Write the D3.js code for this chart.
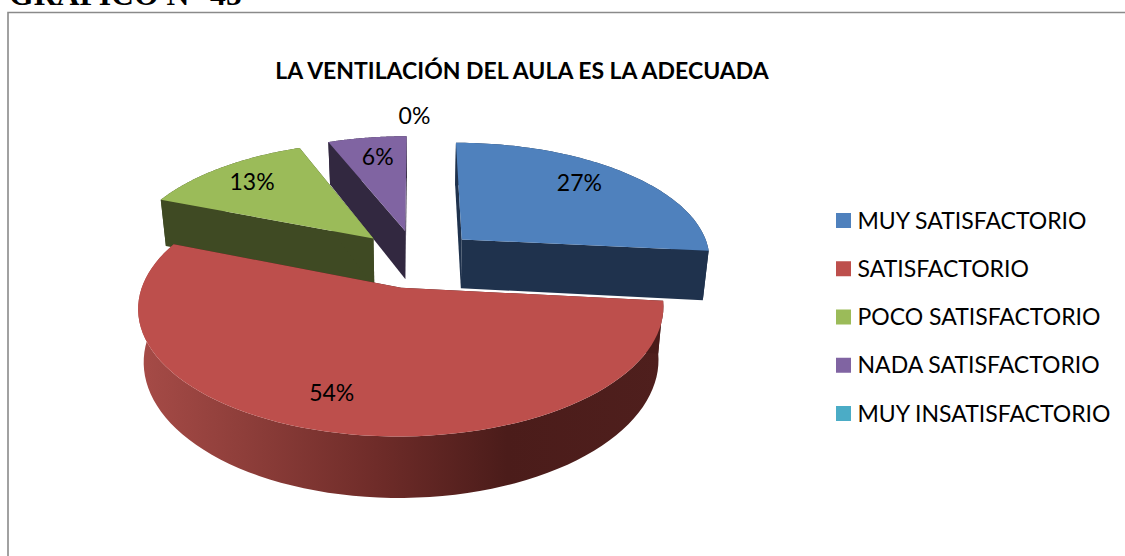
<!DOCTYPE html>
<html><head><meta charset="utf-8">
<script src="https://cdn.jsdelivr.net/npm/d3@7"></script>
<style>html,body{margin:0;padding:0;background:#fff;overflow:hidden}svg{display:block}</style>
</head><body><svg id="c" width="1125" height="556"></svg>
<script>
const categories = ["MUY SATISFACTORIO","SATISFACTORIO","POCO SATISFACTORIO","NADA SATISFACTORIO","MUY INSATISFACTORIO"];
const percentages = [26.6,54.4,13,6,0];
const topColors = ["#4f81bd","#bd4f4c","#9bbb59","#8064a2","#4bacc6"];
const cutColors = ["#1f324d","#4a1c1a","#3f4a23","#322840","#1e4a56"];
const sideColors = ["#1f324d",null,"#3f4a23","#322840","#1e4a56"];
const chartTitle = "LA VENTILACIÓN DEL AULA ES LA ADECUADA";
const pageHeading = "GRÁFICO N° 45";
const drawOrder = [3,2,0,1];
const labelNudges = [[-1,-4],[-18,9],[-9,-2],[1,-2],[-2,-10]];

const svg = d3.select("#c");
const FONT = "Lato, 'Noto Sans', sans-serif";

// Page heading and frame
svg.append("text").attr("x",9).attr("y",5).attr("font-family","'Liberation Serif',serif")
  .attr("font-weight","bold").attr("font-size",31.7).attr("fill","#000").text(pageHeading);
svg.append("path").attr("d","M1125 12.5H8V556").attr("fill","none").attr("stroke","#8a8a8a").attr("stroke-width",1.6);

svg.append("text").attr("x",522).attr("y",79).attr("text-anchor","middle").attr("font-family",FONT)
  .attr("font-weight","bold").attr("font-size",23).attr("fill","#000").text(chartTitle);

// Projection: world disk coordinates → screen, via linear scales and mild perspective
const x = d3.scaleLinear().domain([0,1]).range([416.5,666.5]);
const y = d3.scaleLinear().domain([0,1]).range([258.5,142]);
const persp = Y => 1/(1+0.15*Y);
const height3d = 50, baseShrink = 0.98, explode = 0.25;
const project = (X,Y,base) => {
  const s = persp(Y);
  let px = x(X*s), py = y(Y*s);
  if(base){ px = x(X*s*baseShrink); py += height3d*s; }
  return [px,py];
};

const pie = d3.pie().sort(null).value(d=>d);
const arcs = pie(percentages);
const line = d3.line().curve(d3.curveLinear);

const sliceGeom = a => {
  const mid=(a.startAngle+a.endAngle)/2;
  const ox=explode*Math.sin(mid), oy=explode*Math.cos(mid);
  const rim=(t,base)=>project(ox+Math.sin(t),oy+Math.cos(t),base);
  const apex=base=>project(ox,oy,base);
  const ts=d3.range(0,1.0001,1/80).map(d3.interpolateNumber(a.startAngle,a.endAngle));
  return {mid,ox,oy,rim,apex,ts};
};

const defs = svg.append("defs");
const grad = defs.append("linearGradient").attr("id","redSide").attr("gradientUnits","userSpaceOnUse")
  .attr("x1",140).attr("x2",664).attr("y1",0).attr("y2",0);
[[0,"#a64b47"],[0.2,"#8e3e3a"],[0.45,"#6f2c29"],[0.7,"#4b1c1a"],[1,"#4f1f1d"]].forEach(s=>
  grad.append("stop").attr("offset",s[0]).attr("stop-color",s[1]));

const g = svg.append("g");
drawOrder.forEach(i=>{
  const a=arcs[i], G=sliceGeom(a);
  // outer rim
  const top=G.ts.map(t=>G.rim(t,false)), bot=G.ts.map(t=>G.rim(t,true)).reverse();
  g.append("path").attr("d",line(top.concat(bot))+"Z")
    .attr("fill", sideColors[i]||"url(#redSide)");
  // cut faces
  [a.startAngle,a.endAngle].forEach(t=>{
    g.append("path").attr("d",line([G.apex(false),G.rim(t,false),G.rim(t,true),G.apex(true)])+"Z")
      .attr("fill",cutColors[i]);
  });
  // top face
  g.append("path").attr("d",line([G.apex(false)].concat(top))+"Z").attr("fill",topColors[i]);
});

// Data labels
arcs.forEach((a,i)=>{
  const G=sliceGeom(a), r=percentages[i]===0?1.1:0.72;
  const p=project(G.ox+r*Math.sin(G.mid),G.oy+r*Math.cos(G.mid),false);
  const n=labelNudges[i];
  svg.append("text").attr("x",p[0]+n[0]).attr("y",p[1]+n[1]).attr("text-anchor","middle")
    .attr("dominant-baseline","middle").attr("font-family",FONT).attr("font-size",23).attr("fill","#000")
    .text(Math.round(percentages[i])+"%");
});

// Legend
const rowY = d3.scalePoint().domain(categories).range([220.5,413.5]);
const leg = svg.append("g").selectAll("g").data(categories).join("g")
  .attr("transform",d=>`translate(836,${rowY(d)})`);
leg.append("rect").attr("x",0).attr("y",-7.5).attr("width",15).attr("height",15)
  .attr("fill",(d,i)=>topColors[i]);
leg.append("text").attr("x",21.5).attr("y",8).attr("font-family",FONT).attr("font-size",23)
  .attr("fill","#000").text(d=>d);
</script></body></html>
